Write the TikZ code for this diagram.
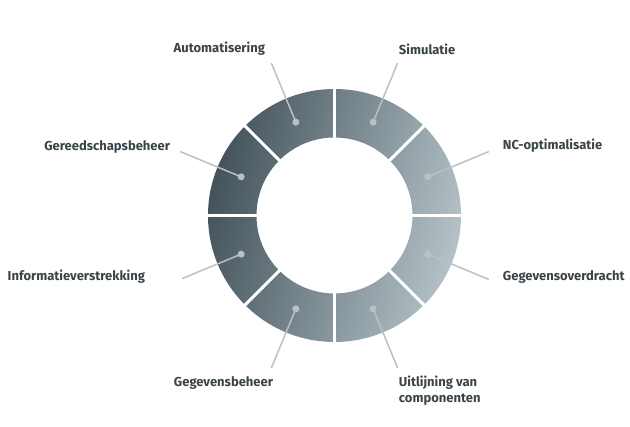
\documentclass[tikz,border=0pt]{standalone}
\usepackage{fontspec}
\setmainfont{Fira Sans}
\usetikzlibrary{calc}
\definecolor{ringdark}{HTML}{44535B}
\definecolor{ringlight}{HTML}{B4C2C8}
\definecolor{pin}{HTML}{B8C1C6}
\definecolor{labeltext}{HTML}{3A4348}
\begin{document}
\begin{tikzpicture}[x=1pt,y=1pt,
		label/.style={font=\bfseries\fontsize{13}{15.5}\selectfont,text=labeltext,inner sep=0pt,outer sep=0pt},
		dot/.style={circle,fill=pin,minimum size=7pt,inner sep=0pt},
		pinline/.style={draw=pin,line width=1.5pt},
		gap/.style={draw=white,line width=3pt}
		]
		\useasboundingbox (-334.5,-211.5) rectangle (295.5,215.5);
		
		\coordinate(O) at (0,0);
		\shade[even odd rule,top color=ringdark,bottom color=ringlight,shading angle=75]
			(O) circle (126.5) (O) circle (78);
		\foreach \a in {0,45,...,315}
			\draw[gap] (\a:76) -- (\a:129);
		
		% pins on the ring
		\node[dot] (d1) at (22.5:101) {};
		\node[dot] (d2) at (67.5:101) {};
		\node[dot] (d3) at (112.5:101) {};
		\node[dot] (d4) at (157.5:101) {};
		\node[dot] (d5) at (202.5:101) {};
		\node[dot] (d6) at (247.5:101) {};
		\node[dot] (d7) at (292.5:101) {};
		\node[dot] (d8) at (337.5:101) {};
		\coordinate(e1) at (22.5:167);
		\coordinate(e2) at (67.5:165);
		\coordinate(e3) at (112.5:165);
		\coordinate(e4) at (157.5:167);
		\coordinate(e5) at (202.5:165);
		\coordinate(e6) at (247.5:165);
		\coordinate(e7) at (292.5:165);
		\coordinate(e8) at (337.5:167);
		\foreach \i in {1,...,8}
			\draw[pinline] (d\i.center) -- (e\i);
		
		% labels
		\node[label,anchor=west] (nc) at (168.5,69.5) {NC-optimalisatie};
		\node[label,anchor=west] (sim) at (64.5,166.5) {Simulatie};
		\node[label,anchor=east] (aut) at (-69.5,166.5) {Automatisering};
		\node[label,anchor=east] (ger) at (-164.5,68.5) {Gereedschapsbeheer};
		\node[label,anchor=east] (inf) at (-189.5,-61.5) {Informatieverstrekking};
		\node[label,anchor=east] (gbh) at (-61.5,-167.5) {Gegevensbeheer};
		\node[label,anchor=north west,align=left] (uit) at (64.5,-160.5) {Uitlijning van\\componenten};
		\node[label,anchor=west] (gov) at (168.5,-61.5) {Gegevensoverdracht};
	\end{tikzpicture}
\end{document}
